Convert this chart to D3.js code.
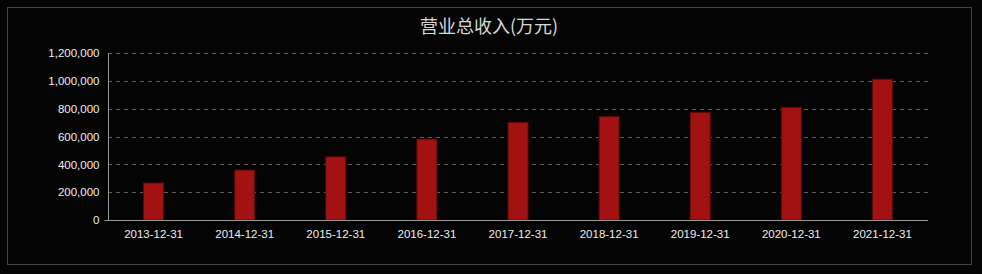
<!DOCTYPE html>
<html><head><meta charset="utf-8">
<script src="https://cdn.jsdelivr.net/npm/d3@7"></script>
<style>html,body{margin:0;padding:0;background:#040404;overflow:hidden}</style>
</head><body><svg id="c" width="982" height="274"></svg>
<script>
const title = "营业总收入(万元)";
const categories = ["2013-12-31","2014-12-31","2015-12-31","2016-12-31","2017-12-31","2018-12-31","2019-12-31","2020-12-31","2021-12-31"];
const revenue = [266000, 359000, 454000, 581000, 702000, 743000, 774000, 810000, 1012000];
const yTicks = [0, 200000, 400000, 600000, 800000, 1000000, 1200000];

const W = 982, H = 274;
const m = {left:108, right:54, top:53, bottom:54};
const svg = d3.select("#c");
svg.append("rect").attr("x",0).attr("y",0).attr("width",W).attr("height",H).attr("fill","#040404");
svg.append("rect").attr("x",7.5).attr("y",7.5).attr("width",964).attr("height",257)
  .attr("fill","none").attr("stroke","#444").attr("stroke-width",1);

const x = d3.scaleBand().domain(categories).range([m.left, W - m.right]).padding(0);
const y = d3.scaleLinear().domain([0, 1200000]).range([H - m.bottom, m.top]);

// grid
svg.append("g").selectAll("line").data(yTicks.filter(d=>d>0)).join("line")
  .attr("x1", m.left).attr("x2", W - m.right)
  .attr("y1", d=>Math.round(y(d))+0.5).attr("y2", d=>Math.round(y(d))+0.5)
  .attr("stroke","#5f5f5f").attr("stroke-dasharray","4,4");

// bars
const bw = x.bandwidth()*0.22;
svg.append("g").selectAll("rect").data(revenue).join("rect")
  .attr("x", (d,i)=> x(categories[i]) + x.bandwidth()/2 - bw/2)
  .attr("y", d=>y(d))
  .attr("width", bw)
  .attr("height", d=> y(0)-y(d))
  .attr("fill","#a31212").attr("stroke","#5a0808").attr("stroke-width",1);

// axes
const fmt = d3.format(",");
const ya = d3.axisLeft(y).tickValues(yTicks).tickFormat(fmt).tickSize(0).tickPadding(9);
const gy = svg.append("g").attr("transform",`translate(${m.left+0.5},0)`).call(ya);
gy.select(".domain").attr("stroke","#999").attr("d",`M-4,${y(0)+0.5}H0V${m.top}`);
gy.selectAll("text").attr("fill","#eee").attr("font-family","Liberation Sans, sans-serif").attr("font-size","11.5px");

const xa = d3.axisBottom(x).tickSize(0).tickPadding(9);
const gx = svg.append("g").attr("transform",`translate(0,${Math.round(y(0))+0.5})`).call(xa);
gx.select(".domain").attr("stroke","#999").attr("d",`M${m.left},0H${W-m.right}`);
gx.selectAll("text").attr("fill","#eee").attr("font-family","Liberation Sans, sans-serif").attr("font-size","11.5px");

svg.append("text").attr("x",489).attr("y",33).attr("text-anchor","middle")
  .attr("fill","#d8d8d8").attr("font-family","Noto Sans CJK SC, sans-serif").attr("font-size","18px")
  .text(title);
</script></body></html>
